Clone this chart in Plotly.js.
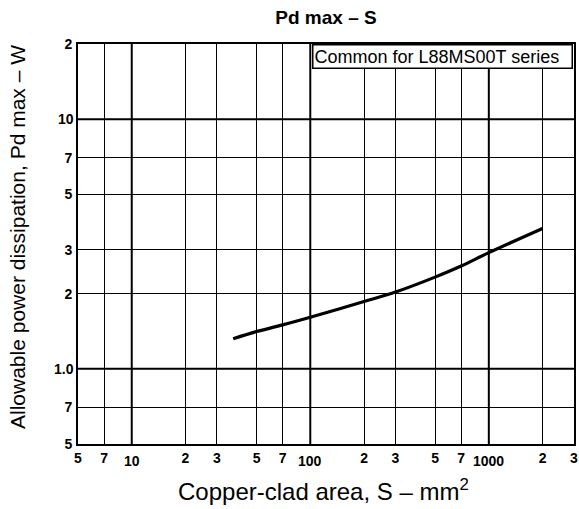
<!DOCTYPE html>
<html>
<head>
<meta charset="utf-8">
<script src="https://cdn.plot.ly/plotly-3.0.1.min.js"></script>
<style>html,body{margin:0;padding:0;background:#fff;}#chart{width:579px;height:509px;}</style>
</head>
<body>
<div id="chart"></div>
<script>
// Data
const areaS = [37, 50, 70, 100, 200, 300, 500, 700, 1000, 2000];
const pdMax = [1.32, 1.41, 1.50, 1.61, 1.86, 2.03, 2.33, 2.58, 2.92, 3.65];

// Minor (non-decade) ticks and their labels
const xTickVals = [5, 7, 20, 30, 50, 70, 200, 300, 500, 700, 2000, 3000];
const xTickText = ['5', '7', '2', '3', '5', '7', '2', '3', '5', '7', '2', '3'];
// Decade ticks (heavier grid lines, labels drawn lower)
const xDecadeVals = [10, 100, 1000];
const xDecadeText = ['10', '100', '1000'];

const yTickVals = [0.5, 0.7, 2, 3, 5, 7, 20];
const yTickText = ['5', '7', '2', '3', '5', '7', '2'];
const yDecadeVals = [1, 10];
const yDecadeText = ['1.0', '10'];

const xMin = 5, xMax = 3000, yMin = 0.5, yMax = 20;
const xRange = [Math.log10(xMin), Math.log10(xMax)];
const yRange = [Math.log10(yMin), Math.log10(yMax)];

const FONT = 'Liberation Sans, Arial, sans-serif';
const TICKFONT = {family: FONT, size: 14, color: '#000', weight: 'bold'};

// Heavy decade grid lines built from the decade arrays
const vx = [], vy = [];
xDecadeVals.forEach(v => { vx.push(v, v, null); vy.push(yMin, yMax, null); });
const hx = [], hy = [];
yDecadeVals.forEach(v => { hx.push(xMin, xMax, null); hy.push(v, v, null); });

const traces = [
  {x: vx, y: vy, type: 'scatter', mode: 'lines', line: {color: '#000', width: 2}, hoverinfo: 'skip', showlegend: false},
  {x: hx, y: hy, type: 'scatter', mode: 'lines', line: {color: '#000', width: 2}, hoverinfo: 'skip', showlegend: false},
  {x: areaS, y: pdMax, type: 'scatter', mode: 'lines', line: {color: '#000', width: 3.2, shape: 'spline'}, hoverinfo: 'skip', showlegend: false}
];

const annotations = [];
xDecadeVals.forEach((v, i) => annotations.push({
  x: Math.log10(v), xref: 'x', y: 0, yref: 'paper', yshift: -17, yanchor: 'middle', xanchor: 'center',
  text: xDecadeText[i], showarrow: false, font: TICKFONT
}));
yDecadeVals.forEach((v, i) => annotations.push({
  x: 0, xref: 'paper', xshift: -2, y: Math.log10(v), yref: 'y', yanchor: 'middle', xanchor: 'right',
  text: yDecadeText[i], showarrow: false, font: TICKFONT
}));
annotations.push({
  x: (312 - 78) / 496, xref: 'paper', y: 1, yref: 'paper', xanchor: 'left', yanchor: 'top',
  width: 256, align: 'left',
  text: 'Common for L88MS00T series', showarrow: false,
  bgcolor: '#fff', bordercolor: '#000', borderwidth: 1.5, borderpad: 1,
  font: {family: FONT, size: 18, color: '#000'}
});
annotations.push({
  x: 0.495, xref: 'paper', y: -0.115, yref: 'paper', xanchor: 'center', yanchor: 'middle',
  text: 'Copper-clad area, S – mm<sup>2</sup>', showarrow: false,
  font: {family: FONT, size: 24, color: '#000'}
});
annotations.push({
  x: (17 - 78) / 496, xref: 'paper', y: (444 - 237) / 400, yref: 'paper', xanchor: 'center', yanchor: 'middle', textangle: -90,
  text: 'Allowable power dissipation, Pd max – W', showarrow: false,
  font: {family: FONT, size: 21, color: '#000'}
});

const layout = {
  width: 579, height: 509,
  margin: {l: 78, r: 5, t: 44, b: 65},
  paper_bgcolor: '#fff', plot_bgcolor: '#fff',
  title: {text: '<b>Pd max – S</b>', x: 0.563, xanchor: 'center', y: 1 - 17 / 509, yanchor: 'middle', yref: 'container',
          font: {family: FONT, size: 19, color: '#000'}},
  xaxis: {type: 'log', range: xRange, tickmode: 'array', tickvals: xTickVals, ticktext: xTickText,
          showgrid: true, gridcolor: '#000', gridwidth: 1, showline: true, linecolor: '#000', linewidth: 2, mirror: true,
          ticks: '', ticklabelstandoff: 0, zeroline: false, tickfont: TICKFONT},
  yaxis: {type: 'log', range: yRange, tickmode: 'array', tickvals: yTickVals, ticktext: yTickText,
          showgrid: true, gridcolor: '#000', gridwidth: 1, showline: true, linecolor: '#000', linewidth: 2, mirror: true,
          ticks: '', ticklabelstandoff: 1, zeroline: false, tickfont: TICKFONT},
  annotations: annotations,
  showlegend: false
};

Plotly.newPlot('chart', traces, layout, {displayModeBar: false, staticPlot: true});
</script>
</body>
</html>
